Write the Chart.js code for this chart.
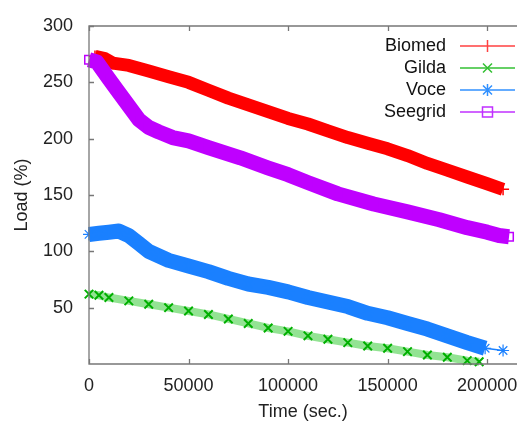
<!DOCTYPE html>
<html>
<head>
<meta charset="utf-8">
<script src="https://cdn.jsdelivr.net/npm/chart.js@4"></script>
<style>
html, body { margin: 0; padding: 0; background: #fff; }
#wrap { width: 517px; height: 424px; }
</style>
</head>
<body>
<div id="wrap"><canvas id="myChart"></canvas></div>
<script>
// values (time in sec., load in %)
var biomedTime = [3000, 8000, 12000, 20000, 30000, 40000, 50000, 60000, 70000, 80000, 90000, 100000, 110000, 120000, 130000, 140000, 150000, 160000, 170000, 180000, 190000, 200000, 208000];
var biomedLoad = [273, 271, 267, 265, 260, 255, 250, 243, 236, 230, 224, 218, 213, 207, 201, 196, 191, 185, 178, 172, 166, 160, 155];

var gildaTime = [0, 5000, 10000, 20000, 30000, 40000, 50000, 60000, 70000, 80000, 90000, 100000, 110000, 120000, 130000, 140000, 150000, 160000, 170000, 180000, 190000, 196000];
var gildaLoad = [62, 61, 59, 56, 53, 50, 47, 44, 40, 36, 32, 29, 25, 22, 19, 16, 14, 11, 8, 6, 3, 2];

var voceTime = [0, 5000, 10000, 15000, 20000, 25000, 30000, 35000, 40000, 50000, 60000, 70000, 80000, 90000, 100000, 110000, 120000, 130000, 140000, 150000, 160000, 170000, 180000, 190000, 199000, 208000];
var voceLoad = [115, 116, 117, 118, 114, 107, 100, 96, 92, 87, 82, 76, 71, 68, 64, 59, 55, 51, 45, 41, 36, 31, 25, 19, 14, 12];

var seegridTime = [0, 4000, 10000, 15000, 20000, 25000, 30000, 35000, 42000, 50000, 60000, 76000, 90000, 100000, 110000, 125000, 143000, 160000, 176000, 190000, 200000, 206000, 211000];
var seegridLoad = [270, 268, 253, 241, 229, 217, 210, 206, 201, 198, 192, 183, 174, 168, 161, 151, 142, 135, 128, 121, 117, 114, 113];

var xTicks = [0, 50000, 100000, 150000, 200000];
var yTicks = [50, 100, 150, 200, 250, 300];

function points(xs, ys) {
    return xs.map(function (t, i) { return {x: t, y: ys[i]}; });
}

var FONT = "'Liberation Sans', Arial, sans-serif";

// gnuplot-like frame with inward ticks
var framePlugin = {
    id: 'frame',
    afterDatasetsDraw(chart) {
        var ctx = chart.ctx, a = chart.chartArea;
        var x = chart.scales.x, y = chart.scales.y;
        ctx.save();
        ctx.strokeStyle = '#777';
        ctx.lineWidth = 1.3;
        ctx.beginPath();
        ctx.moveTo(a.right + 5, a.top);
        ctx.lineTo(a.left, a.top);
        ctx.lineTo(a.left, a.bottom);
        ctx.lineTo(a.right + 5, a.bottom);
        ctx.stroke();
        ctx.beginPath();
        x.ticks.forEach(function (t) {
            var px = Math.round(x.getPixelForValue(t.value)) + 0.5;
            ctx.moveTo(px, a.bottom); ctx.lineTo(px, a.bottom - 5);
            ctx.moveTo(px, a.top); ctx.lineTo(px, a.top + 5);
        });
        y.ticks.forEach(function (t) {
            var py = Math.round(y.getPixelForValue(t.value)) + 0.5;
            ctx.moveTo(a.left, py); ctx.lineTo(a.left + 5, py);
        });
        ctx.stroke();
        ctx.restore();
    }
};

// legend like gnuplot: text right aligned, sample line on the right
var keyPlugin = {
    id: 'key',
    afterDraw(chart) {
        var ctx = chart.ctx, a = chart.chartArea;
        ctx.save();
        ctx.font = '18px ' + FONT;
        ctx.textAlign = 'right';
        ctx.textBaseline = 'middle';
        chart.data.datasets.forEach(function (ds, i) {
            var yy = a.top + 20 + i * 22;
            var x0 = a.right - 57, x1 = a.right - 2, xm = (x0 + x1) / 2;
            ctx.fillStyle = '#111';
            ctx.fillText(ds.label, a.right - 71, yy);
            ctx.strokeStyle = ds.keyColor;
            ctx.lineWidth = 1.5;
            ctx.beginPath();
            ctx.moveTo(x0, yy); ctx.lineTo(x1, yy);
            ctx.stroke();
            var r = 6;
            ctx.beginPath();
            if (ds.pointStyle === 'cross' || ds.pointStyle === 'star') {
                ctx.moveTo(xm, yy - r); ctx.lineTo(xm, yy + r);
            }
            if (ds.pointStyle === 'crossRot' || ds.pointStyle === 'star') {
                var d = r * 0.75;
                ctx.moveTo(xm - d, yy - d); ctx.lineTo(xm + d, yy + d);
                ctx.moveTo(xm - d, yy + d); ctx.lineTo(xm + d, yy - d);
            }
            if (ds.pointStyle === 'rect') {
                ctx.rect(xm - 5, yy - 5, 10, 10);
            }
            ctx.stroke();
        });
        ctx.restore();
    }
};

var ctx = document.getElementById('myChart');
var chart = new Chart(ctx, {
    type: 'line',
    data: {
        datasets: [{
            label: 'Biomed',
            data: points(biomedTime, biomedLoad),
            borderColor: '#ff0000',
            keyColor: '#ff4040',
            borderWidth: 13,
            pointStyle: 'cross',
            pointRadius: 6,
            pointBorderColor: '#ff0000',
            pointBorderWidth: 1.5,
            order: 4
        }, {
            label: 'Gilda',
            data: points(gildaTime, gildaLoad),
            borderColor: 'rgba(40, 200, 40, 0.5)',
            keyColor: '#33c033',
            borderWidth: 8,
            pointStyle: 'crossRot',
            pointRadius: 6,
            pointBorderColor: '#00b000',
            pointBorderWidth: 2,
            order: 3
        }, {
            label: 'Voce',
            data: points(voceTime, voceLoad),
            borderColor: '#1a80ff',
            keyColor: '#3090ff',
            borderWidth: 15,
            pointStyle: 'star',
            pointRadius: 6,
            pointBorderColor: '#1a80ff',
            pointBorderWidth: 1.2,
            segment: {
                borderWidth: function (c) { return c.p1DataIndex === voceTime.length - 1 ? 1.5 : 15; }
            },
            order: 2
        }, {
            label: 'Seegrid',
            data: points(seegridTime, seegridLoad),
            borderColor: '#bf00ff',
            keyColor: '#c030ff',
            borderWidth: 15,
            pointStyle: 'rect',
            pointRadius: 6,
            pointBorderColor: '#bf00ff',
            pointBackgroundColor: 'rgba(0,0,0,0)',
            pointBorderWidth: 1.5,
            order: 1
        }]
    },
    options: {
        responsive: true,
        maintainAspectRatio: false,
        animation: false,
        layout: { autoPadding: false, padding: { left: 0, top: 26, right: 0, bottom: 0 } },
        elements: { line: { tension: 0, borderJoinStyle: 'round', borderCapStyle: 'butt' } },
        datasets: { line: { clip: false } },
        plugins: {
            legend: { display: false },
            tooltip: { enabled: false }
        },
        scales: {
            x: {
                type: 'linear',
                min: 0,
                max: 215000,
                grid: { display: false },
                border: { display: false },
                afterBuildTicks: function (s) { s.ticks = xTicks.map(function (v) { return {value: v}; }); },
                ticks: {
                    autoSkip: false,
                    maxRotation: 0,
                    padding: 3,
                    color: '#222',
                    font: { family: FONT, size: 18 },
                    callback: function (v) { return String(v); }
                },
                title: {
                    display: true,
                    text: 'Time (sec.)',
                    color: '#222',
                    font: { family: FONT, size: 18 },
                    padding: { top: 0, bottom: 1 }
                },
                afterFit: function (s) { s.height = 60; s.paddingLeft = 0; s.paddingRight = 0; }
            },
            y: {
                min: 0,
                max: 300,
                grid: { display: false },
                border: { display: false },
                afterBuildTicks: function (s) { s.ticks = yTicks.map(function (v) { return {value: v}; }); },
                ticks: {
                    padding: 8,
                    color: '#222',
                    font: { family: FONT, size: 18 },
                    callback: function (v) { return String(v); }
                },
                title: {
                    display: true,
                    text: 'Load (%)',
                    color: '#222',
                    font: { family: FONT, size: 18 },
                    padding: { top: 11, bottom: 0 }
                },
                afterFit: function (s) { s.width = 89; s.paddingTop = 0; s.paddingBottom = 0; }
            }
        }
    },
    plugins: [framePlugin, keyPlugin]
});
</script>
</body>
</html>
